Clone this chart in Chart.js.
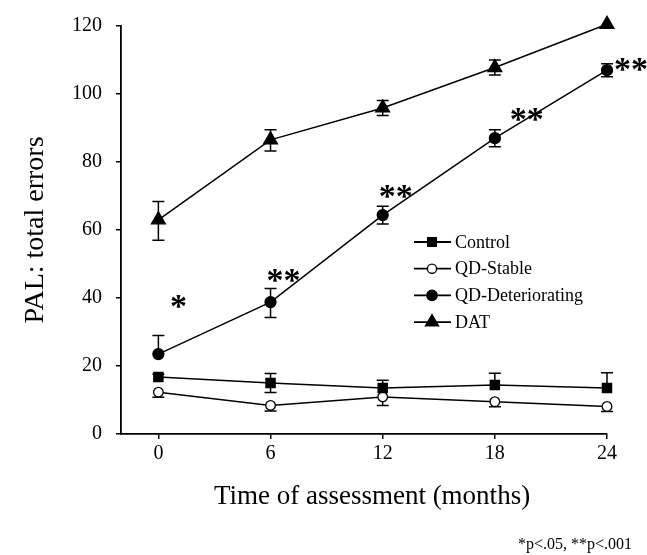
<!DOCTYPE html>
<html><head><meta charset="utf-8">
<script src="https://cdn.jsdelivr.net/npm/chart.js@4/dist/chart.umd.min.js"></script>
<style>html,body{margin:0;padding:0;background:#fff}#wrap{width:647px;height:555px;position:relative}</style>
</head><body><div id="wrap"><canvas id="c"></canvas></div>
<script>
// ---- data ----
const months = [0, 6, 12, 18, 24];
const xTickValues = [0, 6, 12, 18, 24];
const yTickValues = [0, 20, 40, 60, 80, 100, 120];
const seriesNames = ['Control', 'QD-Stable', 'QD-Deteriorating', 'DAT'];
const control = [16.8, 15.0, 13.5, 14.4, 13.5];
const controlErrUp = [0.8, 2.8, 2.3, 3.5, 4.5];
const controlErrDown = [0, 2.8, 0, 0, 0];
const qdStable = [12.3, 8.4, 10.9, 9.5, 8.1];
const qdStableErrUp = [0, 0, 0, 0, 0];
const qdStableErrDown = [1.5, 1.6, 2.5, 1.5, 1.5];
const qdDet = [23.5, 38.8, 64.4, 87.0, 107.0];
const qdDetErrUp = [5.5, 4.0, 2.6, 2.5, 1.9];
const qdDetErrDown = [0, 4.5, 2.6, 2.5, 1.9];
const dat = [63.0, 86.5, 95.9, 107.8, 120.5];
const datErrUp = [5.4, 3.0, 2.2, 2.2, 0];
const datErrDown = [6.0, 3.3, 2.2, 2.2, 0];
const sigLabels = ['*', '**', '**', '**', '**'];
const xTitle = 'Time of assessment (months)';
const yTitle = 'PAL: total errors';
const footnote = '*p<.05, **p<.001';

const SERIF = "'Liberation Serif', 'Times New Roman', serif";
const toPts = arr => arr.map((v, i) => ({x: months[i], y: v}));

function ds(label, vals, up, down, style, fill, radius) {
  return {
    label, data: toPts(vals), errUp: up, errDown: down,
    borderColor: '#000', borderWidth: 1.5, backgroundColor: fill,
    pointStyle: style, pointRadius: radius, pointHoverRadius: radius,
    pointBackgroundColor: fill, pointBorderColor: '#000', pointBorderWidth: 1.3,
    tension: 0, clip: false, fill: false
  };
}

const datasets = [
  ds(seriesNames[0], control, controlErrUp, controlErrDown, 'rect', '#000', 6.5),
  ds(seriesNames[1], qdStable, qdStableErrUp, qdStableErrDown, 'circle', '#fff', 4.8),
  ds(seriesNames[2], qdDet, qdDetErrUp, qdDetErrDown, 'circle', '#000', 5.5),
  ds(seriesNames[3], dat, datErrUp, datErrDown, 'triangle', '#000', 8)
];

const errorBars = {
  id: 'errorBars',
  beforeDatasetsDraw(chart) {
    const {ctx, scales: {x, y}} = chart;
    ctx.save();
    ctx.strokeStyle = '#000';
    ctx.lineWidth = 1.5;
    chart.data.datasets.forEach(d => {
      d.data.forEach((p, i) => {
        const px = x.getPixelForValue(p.x);
        const cap = 6;
        [[d.errUp[i], 1], [d.errDown[i], -1]].forEach(([e, s]) => {
          if (!e) return;
          const py0 = y.getPixelForValue(p.y);
          const py1 = y.getPixelForValue(p.y + s * e);
          ctx.beginPath();
          ctx.moveTo(px, py0); ctx.lineTo(px, py1);
          ctx.moveTo(px - cap, py1); ctx.lineTo(px + cap, py1);
          ctx.stroke();
        });
      });
    });
    ctx.restore();
  }
};

function drawCenteredGlyph(ctx, text, cx, cy) {
  const m = ctx.measureText(text);
  const yb = cy + (m.actualBoundingBoxAscent - m.actualBoundingBoxDescent) / 2;
  ctx.fillText(text, cx, yb);
}

const extras = {
  id: 'extras',
  afterDraw(chart) {
    const {ctx, scales: {x, y}} = chart;
    ctx.save();
    ctx.fillStyle = '#000';
    // significance markers next to QD-Deteriorating points
    const sigOffsets = [[20, -53], [13, -27], [13, -24], [32, -24], [24, -6]];
    ctx.font = 'bold 34px ' + SERIF;
    ctx.textAlign = 'center';
    ctx.textBaseline = 'alphabetic';
    sigLabels.forEach((t, i) => {
      const px = x.getPixelForValue(months[i]) + sigOffsets[i][0];
      const py = y.getPixelForValue(qdDet[i]) + sigOffsets[i][1];
      drawCenteredGlyph(ctx, t, px, py);
    });
    // legend
    const lx0 = 414, lx1 = 451, lmx = 432, ltx = 455, ly0 = 242, ldy = 26.7;
    ctx.font = '18px ' + SERIF;
    ctx.textAlign = 'left';
    ctx.textBaseline = 'middle';
    chart.data.datasets.forEach((d, i) => {
      const yy = ly0 + i * ldy;
      ctx.strokeStyle = '#000';
      ctx.lineWidth = 1.8;
      ctx.beginPath(); ctx.moveTo(lx0, yy); ctx.lineTo(lx1, yy); ctx.stroke();
      ctx.fillStyle = d.pointBackgroundColor;
      ctx.lineWidth = 1.3;
      Chart.helpers.drawPoint(ctx, {pointStyle: d.pointStyle, rotation: 0, borderWidth: 1.3, radius: d.pointRadius * 0.95}, lmx, yy);
      ctx.fillStyle = '#000';
      ctx.fillText(d.label, ltx, yy + 1);
    });
    // axis titles
    ctx.textAlign = 'center';
    ctx.textBaseline = 'middle';
    ctx.font = '27px ' + SERIF;
    ctx.fillText(xTitle, 372, 497);
    ctx.save();
    ctx.translate(36, 230);
    ctx.rotate(-Math.PI / 2);
    ctx.font = '28px ' + SERIF;
    ctx.fillText(yTitle, 0, 0);
    ctx.restore();
    // footnote
    ctx.font = '16px ' + SERIF;
    ctx.textAlign = 'right';
    ctx.fillText(footnote, 632, 545);
    ctx.restore();
  }
};

new Chart(document.getElementById('c'), {
  type: 'line',
  data: {datasets},
  options: {
    responsive: true, maintainAspectRatio: false, animation: false,
    events: [],
    layout: {padding: {top: 26, right: 40, left: 0, bottom: 0}},
    plugins: {legend: {display: false}, tooltip: {enabled: false}},
    scales: {
      x: {
        type: 'linear', min: -2, max: 24,
        afterBuildTicks: s => { s.ticks = xTickValues.map(v => ({value: v})); },
        afterFit: s => { s.height = 121; },
        grid: {display: true, drawOnChartArea: false, drawTicks: true, tickLength: 5, color: '#000', lineWidth: 1.5},
        border: {display: true, color: '#000', width: 1.8},
        ticks: {color: '#000', padding: 3, font: {family: SERIF, size: 20}, maxRotation: 0}
      },
      y: {
        type: 'linear', min: 0, max: 120,
        afterBuildTicks: s => { s.ticks = yTickValues.map(v => ({value: v})); },
        afterFit: s => { s.width = 121; },
        grid: {display: true, drawOnChartArea: false, drawTicks: true, tickLength: 5, color: '#000', lineWidth: 1.5},
        border: {display: true, color: '#000', width: 1.8},
        ticks: {color: '#000', padding: 14, font: {family: SERIF, size: 20}}
      }
    }
  },
  plugins: [errorBars, extras]
});
</script>
</body></html>
